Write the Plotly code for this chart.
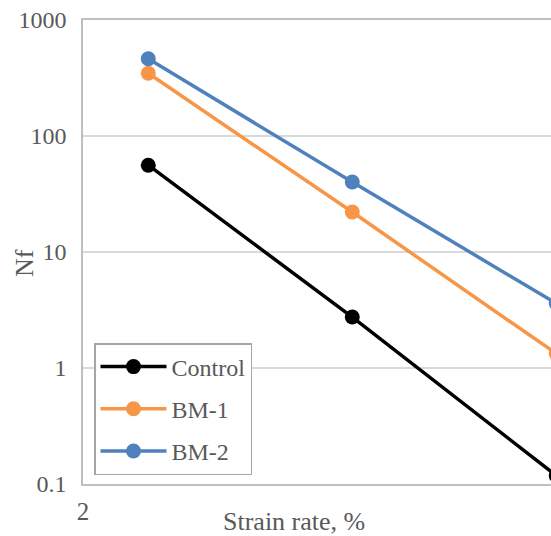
import plotly.graph_objects as go

strain = [2.32, 3.32, 4.32]
series_names = ["Control", "BM-1", "BM-2"]
control = [56, 2.75, 0.118]
bm1 = [348, 22.1, 1.33]
bm2 = [463, 40.1, 3.6]
colors = ["#000000", "#F79646", "#4F81BD"]
y_tickvals = [0.1, 1, 10, 100, 1000]
y_ticktext = ["0.1", "1", "10", "100", "1000"]
x_tickvals = [2]

FONT = "Liberation Serif, Times New Roman, serif"
GREY = "#595959"
FS = 24

W, H = 551, 536
L, T, B = 83, 20, 52
PW = W - L
PH = H - T - B

fig = go.Figure()
for i, (name, vals) in enumerate(zip(series_names, [control, bm1, bm2])):
    fig.add_trace(go.Scatter(
        x=strain, y=vals, name=name, mode="lines+markers",
        line=dict(color=colors[i], width=3.5),
        marker=dict(color=colors[i], size=15),
        legendgroup=name,
    ))

fig.update_layout(
    width=W, height=H,
    margin=dict(l=L, r=0, t=T, b=B),
    plot_bgcolor="white", paper_bgcolor="white",
    font=dict(family=FONT, size=FS, color=GREY),
    showlegend=True,
    legend=dict(
        x=(94 - L) / PW, y=(H - B - 343) / PH, xanchor="left", yanchor="top",
        bordercolor="#A6A6A6", borderwidth=1.5, bgcolor="white",
        font=dict(family=FONT, size=FS, color=GREY),
        tracegroupgap=8, itemwidth=66,
    ),
    xaxis=dict(
        type="linear", range=[2, 2 + PW / 204],
        tickvals=x_tickvals, ticktext=["2"], ticks="",
        tickfont=dict(family=FONT, size=25, color=GREY),
        showgrid=False, zeroline=False,
        showline=True, linecolor="#BFBFBF", linewidth=1.5, mirror=True,
        ticklabelstandoff=4,
    ),
    yaxis=dict(
        type="log", range=[-1.0003, 3.0003],
        tickvals=y_tickvals, ticktext=y_ticktext, ticks="",
        showgrid=True, gridcolor="#D9D9D9", gridwidth=1.5,
        showline=True, linecolor="#BFBFBF", linewidth=1.5,
        zeroline=False, ticklabelstandoff=10,
    ),
    annotations=[
        dict(text="Strain rate, %", xref="paper", yref="paper",
             x=(294 - L) / PW, y=-(521 - (H - B)) / PH,
             xanchor="center", yanchor="middle", showarrow=False,
             font=dict(family=FONT, size=26, color=GREY)),
        dict(text="Nf", xref="paper", yref="paper",
             x=-(L - 24) / PW, y=(H - B - 263) / PH, textangle=-90,
             xanchor="center", yanchor="middle", showarrow=False,
             font=dict(family=FONT, size=26, color=GREY)),
    ],
)

fig.write_html(
    "out.html",
    config={"displayModeBar": False},
    post_script="document.body.style.margin='0';document.body.style.overflow='hidden';",
)
